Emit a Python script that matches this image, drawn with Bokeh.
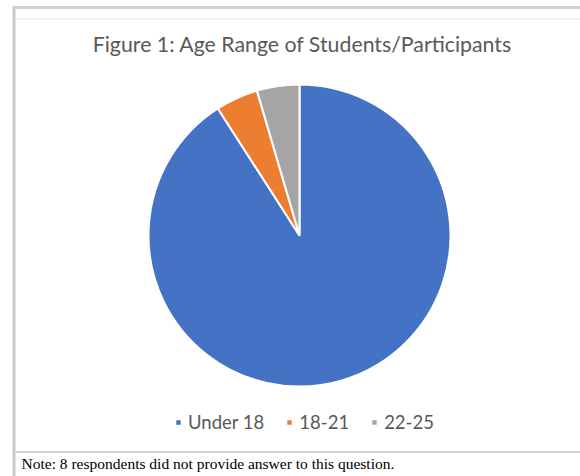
import math
from bokeh.plotting import figure
from bokeh.models import Range1d, Legend, LegendItem, ColumnDataSource
from bokeh.core.properties import value
from bokeh.embed import file_html
from bokeh.resources import INLINE

# ---- data ----
categories = ["Under 18", "18-21", "22-25"]
counts = [40, 2, 2]
colors = ["#4472C4", "#ED7D31", "#A5A5A5"]
title_text = "Figure 1: Age Range of Students/Participants"
note_text = "Note: 8 respondents did not provide answer to this question."

W, H = 580, 476
p = figure(width=W, height=H, output_backend="svg", toolbar_location=None,
           x_range=Range1d(0, W), y_range=Range1d(0, H), min_border=0)
p.axis.visible = False
p.grid.visible = False
p.outline_line_color = None
p.background_fill_color = "white"
p.border_fill_color = "white"

def sy(y):  # screen y -> data y
    return H - y

# chart frame lines
p.segment(x0=[13.5], y0=[sy(7)], x1=[13.5], y1=[sy(476)], line_color="#cacaca", line_width=3)
p.segment(x0=[12], y0=[sy(7)], x1=[580], y1=[sy(7)], line_color="#cfcfcf", line_width=3)
p.segment(x0=[15], y0=[sy(18.5)], x1=[580], y1=[sy(18.5)], line_color="#f3f3f3", line_width=2)
p.segment(x0=[15], y0=[sy(451.5)], x1=[580], y1=[sy(451.5)], line_color="#c4c4c4", line_width=1.5)

# pie
total = sum(counts)
starts, ends = [], []
cum = 0.0
for c in counts:
    a0 = math.pi / 2 - 2 * math.pi * cum / total
    cum += c
    a1 = math.pi / 2 - 2 * math.pi * cum / total
    starts.append(a0)
    ends.append(a1)

src = ColumnDataSource(dict(cat=categories, val=counts, color=colors,
                            start=starts, end=ends))
cx, cy, r = 299, sy(235), 151
wr = p.wedge(x=cx, y=cy, radius=r, start_angle="start", end_angle="end",
             direction="clock", fill_color="color", line_color="white",
             line_width=2, source=src)

# title
p.text(x=[302], y=[sy(43)], text=[title_text], text_font=value("Lato"),
       text_font_size="21.3px", text_color="#595959", text_align="center",
       text_baseline="middle")

# note
p.text(x=[21], y=[sy(463)], text=[note_text], text_font=value("Liberation Serif"),
       text_font_size="15.5px", text_color="#000000", text_align="left",
       text_baseline="middle")

# legend
items = [LegendItem(label=categories[i], renderers=[wr], index=i) for i in range(len(categories))]
legend = Legend(items=items, orientation="horizontal", location=(174, sy(433)),
                glyph_width=8, glyph_height=8, label_standoff=6, spacing=21,
                label_text_font="Lato", label_text_font_size="18.5px",
                label_text_color="#595959", background_fill_alpha=0,
                border_line_color=None, padding=0, margin=0, label_height=16,
                label_text_baseline="middle")
p.add_layout(legend)

open("out.html", "w").write(file_html(p, INLINE))
